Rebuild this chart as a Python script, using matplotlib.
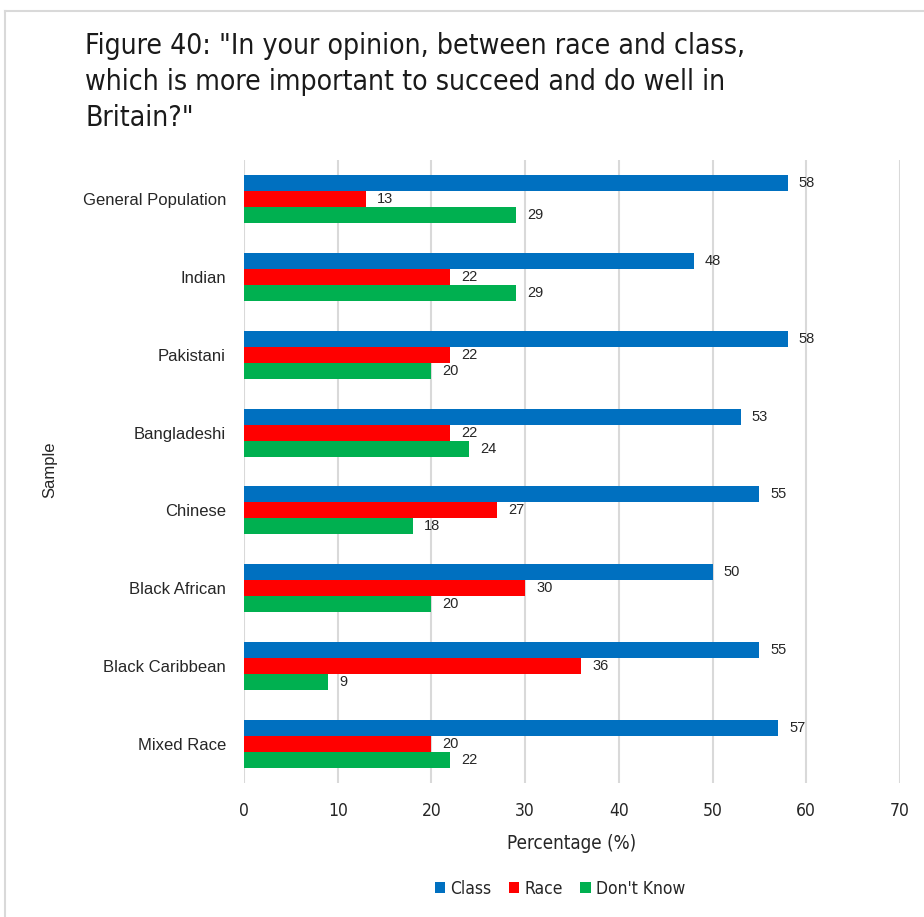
import matplotlib
matplotlib.use("Agg")
import matplotlib.pyplot as plt
import numpy as np

categories = ["General Population", "Indian", "Pakistani", "Bangladeshi",
              "Chinese", "Black African", "Black Caribbean", "Mixed Race"]
class_vals = [58, 48, 58, 53, 55, 50, 55, 57]
race_vals = [13, 22, 22, 22, 27, 30, 36, 20]
dontknow_vals = [29, 29, 20, 24, 18, 20, 9, 22]
series_names = ["Class", "Race", "Don't Know"]
colors = ["#0070C0", "#FF0000", "#00B050"]
x_ticks = [0, 10, 20, 30, 40, 50, 60, 70]

cond = dict(family="DejaVu Sans", fontstretch="condensed")

W, H = 924, 917
fig = plt.figure(figsize=(W / 100, H / 100), dpi=100)

# outer frame (left and top edges visible)
fig.add_artist(plt.Line2D([5 / W, 5 / W], [0, 1 - 11 / H], color="#D9D9D9", lw=1.5))
fig.add_artist(plt.Line2D([5 / W, 1], [1 - 11 / H, 1 - 11 / H], color="#D9D9D9", lw=1.5))

ax_left, ax_right = 244, 900
ax_top, ax_bottom = 160, 783
ax = fig.add_axes([ax_left / W, 1 - ax_bottom / H, (ax_right - ax_left) / W,
                   (ax_bottom - ax_top) / H])

n = len(categories)
y = np.arange(n)
bh = 0.205
series = [class_vals, race_vals, dontknow_vals]
for i, (vals, c, name) in enumerate(zip(series, colors, series_names)):
    pos = y + (i - 1) * bh
    ax.barh(pos, vals, height=bh, color=c, label=name, zorder=3)
    for p, v in zip(pos, vals):
        ax.text(v + 1.2, p, str(v), va="center", ha="left",
                fontsize=10.5, family="Liberation Sans", color="#262626", zorder=4)

ax.set_ylim(n - 0.5, -0.5)
ax.set_xlim(0, 70)
ax.set_xticks(x_ticks)
ax.set_yticks(y)
ax.set_yticklabels(categories, fontsize=12, family="Liberation Sans", color="#262626")
ax.set_xticklabels([str(t) for t in x_ticks], fontsize=12.5, color="#262626", **cond)
ax.tick_params(axis="both", length=0)
ax.tick_params(axis="x", pad=14)
ax.tick_params(axis="y", pad=13)
ax.grid(axis="x", color="#D9D9D9", lw=1.5, zorder=0)
for s in ax.spines.values():
    s.set_visible(False)

ax.set_xlabel("Percentage (%)", fontsize=13.5, color="#262626", labelpad=10, **cond)
fig.text(50 / W, 1 - 470 / H, "Sample", rotation=90, ha="center", va="center",
         fontsize=12, family="Liberation Sans", color="#262626")

fig.text(85 / W, 1 - 82 / H,
         "Figure 40: \"In your opinion, between race and class,\nwhich is more important to succeed and do well in\nBritain?\"",
         ha="left", va="center", fontsize=20.3, color="#1a1a1a",
         linespacing=1.35, **cond)

leg = fig.legend(loc="center", bbox_to_anchor=(560 / W, 1 - 889 / H), ncol=3,
                 frameon=False, handlelength=0.6, handleheight=0.6,
                 handletextpad=0.3, columnspacing=1.0,
                 prop={"family": "DejaVu Sans", "stretch": "condensed", "size": 12.5})
for t in leg.get_texts():
    t.set_color("#262626")

fig.savefig("out.png", dpi=100)
